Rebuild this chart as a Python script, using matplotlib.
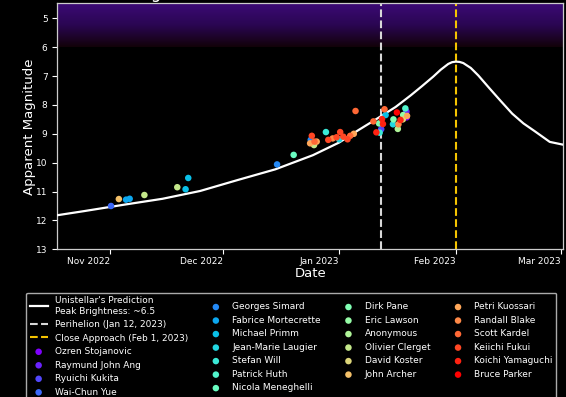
import numpy as np
import pandas as pd
import matplotlib
matplotlib.use("Agg")
import matplotlib.pyplot as plt
import matplotlib.dates as mdates
from matplotlib.colors import LinearSegmentedColormap

# Unistellar predicted light curve for comet C/2022 E3 (ZTF)
pred_dates = ["2022-10-15", "2022-10-25", "2022-11-05", "2022-11-15", "2022-11-25",
              "2022-12-05", "2022-12-15", "2022-12-25", "2023-01-01", "2023-01-06",
              "2023-01-11", "2023-01-16", "2023-01-20", "2023-01-23", "2023-01-26",
              "2023-01-28", "2023-01-30", "2023-01-31", "2023-02-01", "2023-02-02",
              "2023-02-03", "2023-02-05", "2023-02-07", "2023-02-10", "2023-02-13",
              "2023-02-16", "2023-02-19", "2023-02-22", "2023-02-26", "2023-03-05"]
pred_mags = [11.88, 11.68, 11.45, 11.25, 10.98,
             10.60, 10.23, 9.74, 9.30, 8.88,
             8.48, 8.07, 7.67, 7.35, 7.02,
             6.78, 6.58, 6.52, 6.50, 6.51,
             6.55, 6.72, 6.98, 7.43, 7.87,
             8.30, 8.64, 8.91, 9.28, 9.47]
peak_mag = 6.5

perihelion_date = "2023-01-12"
close_approach_date = "2023-02-01"

# Observer reports (magnitude estimates)
observers = ["Ozren Stojanovic", "Raymund John Ang", "Ryuichi Kukita", "Wai-Chun Yue",
             "Georges Simard", "Fabrice Mortecrette", "Michael Primm", "Jean-Marie Laugier",
             "Stefan Will", "Patrick Huth", "Nicola Meneghelli", "Dirk Pane",
             "Eric Lawson", "Anonymous", "Olivier Clerget", "David Koster",
             "John Archer", "Petri Kuossari", "Randall Blake", "Scott Kardel",
             "Keiichi Fukui", "Koichi Yamaguchi", "Bruce Parker"]

obs_dates = [
    ["2023-01-18 23:00"],
    ["2023-01-18 21:00"],
    ["2023-01-12 04:00"],
    ["2022-11-01 07:00"],
    ["2022-12-15 11:00", "2022-12-24 10:00"],
    ["2022-11-05 07:00", "2022-11-06 06:00"],
    ["2022-11-21 03:00", "2022-11-21 20:00", "2023-01-13 08:00"],
    ["2023-01-01 00:00", "2023-01-15 07:00"],
    ["2022-12-28 11:00", "2023-01-11 18:00"],
    ["2023-01-18 14:00"],
    ["2022-12-19 21:00"],
    ["2023-01-11 14:00", "2023-01-15 10:00"],
    ["2023-01-18 00:00"],
    ["2023-01-16 14:00"],
    ["2022-11-10 04:00", "2022-11-18 22:00", "2022-12-25 07:00"],
    ["2023-01-17 22:00"],
    ["2022-11-03 09:00"],
    ["2022-12-24 06:00", "2022-12-26 00:00", "2023-01-04 21:00", "2023-01-19 01:00"],
    ["2022-12-30 06:00", "2023-01-16 18:00"],
    ["2022-12-25 10:00", "2023-01-03 22:00", "2023-01-05 08:00", "2023-01-10 02:00",
     "2023-01-13 01:00"],
    ["2022-12-24 17:00", "2022-12-29 02:00", "2022-12-31 07:00", "2023-01-01 06:00",
     "2023-01-02 02:00", "2023-01-03 05:00"],
    ["2023-01-10 21:00", "2023-01-12 09:00", "2023-01-12 15:00", "2023-01-17 07:00"],
    ["2023-01-16 08:00"],
]
obs_mags = [
    [8.43],
    [8.23],
    [8.84],
    [11.50],
    [10.06, 9.21],
    [11.28, 11.25],
    [10.92, 10.53, 8.35],
    [9.19, 8.67],
    [8.94, 8.96],
    [8.12],
    [9.73],
    [8.64, 8.50],
    [8.35],
    [8.83],
    [11.12, 10.85, 9.39],
    [8.50],
    [11.26],
    [9.33, 9.27, 9.00, 8.38],
    [9.16, 8.67],
    [9.27, 9.07, 8.21, 8.57, 8.15],
    [9.07, 9.21, 9.12, 8.94, 9.10, 9.19],
    [8.95, 8.49, 8.66, 8.52],
    [8.26],
]

month_ticks = ["2022-11-01", "2022-12-01", "2023-01-01", "2023-02-01", "2023-03-01"]

plt.style.use("dark_background")
plt.rcParams["font.family"] = ["DejaVu Sans"]

fig = plt.figure(figsize=(5.66, 3.97), dpi=100, facecolor="black")
ax = fig.add_axes([0.10124, 0.37204, 0.894, 0.61965])
ax.set_facecolor("black")

x_left = pd.Timestamp("2022-10-18")
x_right = pd.Timestamp("2023-03-01 14:30")
y_bottom, y_top = 13, 4.48

# naked-eye zone shading (brighter than magnitude 6)
grad_cmap = LinearSegmentedColormap.from_list("zone", ["#3c0a76", "#2a0652", "#120208"])
grad = np.linspace(0, 1, 256).reshape(-1, 1)
ax.imshow(grad, extent=[mdates.date2num(x_left), mdates.date2num(x_right), 6, y_top],
          aspect="auto", cmap=grad_cmap, origin="upper", zorder=0, interpolation="bilinear")

pred_x = pd.to_datetime(pred_dates)
line_pred, = ax.plot(pred_x, pred_mags, color="white", lw=1.6, zorder=3,
                     label=f"Unistellar's Prediction\nPeak Brightness: ~{peak_mag}")
line_peri = ax.axvline(pd.Timestamp(perihelion_date), color="#d8d8d8", ls="--", lw=1.5,
                       zorder=2, label="Perihelion (Jan 12, 2023)")
line_ca = ax.axvline(pd.Timestamp(close_approach_date), color="#f5c400", ls="--", lw=1.5,
                     zorder=2, label="Close Approach (Feb 1, 2023)")

colors = plt.cm.rainbow(np.linspace(0, 1, len(observers)))
scatters = []
for name, d, m, c in zip(observers, obs_dates, obs_mags, colors):
    sc = ax.scatter(pd.to_datetime(d), m, s=22, color=c, edgecolors="none", zorder=4,
                    label=name)
    scatters.append(sc)

ax.set_xlim(x_left, x_right)
ax.set_ylim(y_bottom, y_top)
ax.set_yticks(range(5, 14))

ax.set_xticks(pd.to_datetime(month_ticks))
ax.xaxis.set_major_formatter(mdates.DateFormatter("%b %Y"))
ax.tick_params(labelsize=6.5, colors="white", length=3.5, width=0.8)
ax.tick_params(axis="x", pad=2)
for lbl in ax.get_xticklabels():
    lbl.set_horizontalalignment("right")
for sp in ax.spines.values():
    sp.set_color("#cccccc")
    sp.set_linewidth(0.9)

ax.set_xlabel("Date", fontsize=9.5, color="white", labelpad=1)
ax.set_ylabel("Apparent Magnitude", fontsize=9.5, color="white", labelpad=0)

fig.text(310.3 / 566, 1 + 1.5 / 397, "Brightness Curve of Comet C/2022 E3 (ZTF)",
         ha="center", va="baseline", fontsize=12, color="white")

handles = [line_pred, line_peri, line_ca] + scatters
leg = ax.legend(handles=handles, loc="upper left", ncol=4, fontsize=6.5,
                bbox_to_anchor=(26 / 566, 1 - 292.6 / 397), bbox_transform=fig.transFigure,
                borderaxespad=0, scatterpoints=1, facecolor="black", edgecolor="#aaaaaa",
                framealpha=1, labelspacing=0.5, columnspacing=2.07)
for t in leg.get_texts():
    t.set_color("white")

fig.savefig("out.png", dpi=100, facecolor="black")
